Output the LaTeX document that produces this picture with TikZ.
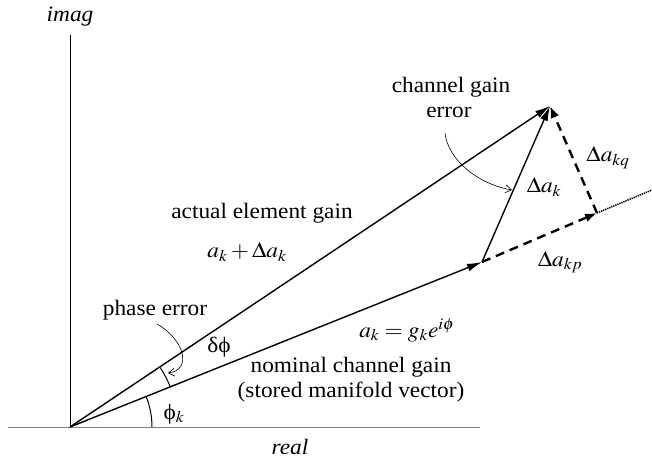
\documentclass[tikz,border=0pt]{standalone}
\usepackage{mathptmx}
\usepackage[no-math]{fontspec}
\setmainfont{Liberation Serif}
\usepackage{graphicx}
\usetikzlibrary{arrows.meta}
\newcommand{\sx}[1]{\scalebox{1.06}[1]{#1}}
\begin{document}
\begin{tikzpicture}[x=1pt,y=1pt,
  lbl/.style={inner sep=0pt, font=\fontsize{22}{25}\selectfont},
  vec/.style={line width=1.4pt, -{Latex[length=15pt,width=8pt]}},
  dvec/.style={line width=2.4pt, dash pattern=on 9pt off 6pt, -{Latex[length=12pt,width=9pt]}},
  thinarr/.style={line width=0.6pt, -{Straight Barb[length=6pt,width=8pt]}}]
\useasboundingbox (0,0) rectangle (652,458);
% key points
\coordinate (O) at (70,31);
\coordinate (Itop) at (70,423);
\coordinate (Rl) at (8,31);
\coordinate (Rr) at (480,31);
\coordinate (T) at (550,352);
\coordinate (N) at (482,196);
\coordinate (D) at (597,245);
\coordinate (E) at (652,268);
% axes
\draw[line width=0.8pt] (O) -- (Itop);
\draw[line width=1pt, gray] (Rl) -- (Rr);
\node[lbl] (imag) at (70,441) {\sx{\textit{imag}}};
\node[lbl] (real) at (290,11) {\sx{\textit{real}}};
% vectors
\draw[vec] (O) -- (T);
\draw[vec] (O) -- (N);
\draw[vec] (N) -- (T);
\draw[dvec] (N) -- (D);
\draw[dvec] (D) -- (T);
\draw[line width=1.5pt, dash pattern=on 1.3pt off 0.9pt] (D) -- (E);
% angle arcs
\draw[line width=1pt] ([shift={(82,0)}]O) arc[start angle=0, end angle=21.8, radius=82];
\draw[line width=1pt] ([shift={(21.8:108)}]O) arc[start angle=21.8, end angle=33.8, radius=108];
% labels
\node[lbl] (cg1) at (451,371) {\sx{channel gain}};
\node[lbl] (cg2) at (449,346) {\sx{error}};
\node[lbl] (dakq) at (608,300) {\sx{$\Delta a_{kq}$}};
\node[lbl] (dak) at (544,271) {\sx{$\Delta a_{k}$}};
\node[lbl] (dakp) at (560,196) {\sx{$\Delta a_{kp}$}};
\node[lbl] (aeg) at (262,245) {\sx{actual element gain}};
\node[lbl] (apd) at (247,206) {\sx{$a_k + \Delta a_k$}};
\node[lbl] (pe) at (155,148) {\sx{phase error}};
\node[lbl] (dphi) at (219,111) {\sx{δϕ}};
\node[lbl] (ak) at (407,128) {\sx{$a_k = g_k e^{i\phi}$}};
\node[lbl] (ncg) at (351,91) {\sx{nominal channel gain}};
\node[lbl] (smv) at (351,66) {\sx{(stored manifold vector)}};
\node[lbl] (phik) at (174,44) {\sx{ϕ$_k$}};
% pointer arrows
\coordinate (peS) at (157,134);
\coordinate (peE) at (168,85);
\draw[thinarr] (peS) .. controls (185,118) and (192,88) .. (peE);
\coordinate (cgS) at (445,325);
\coordinate (cgE) at (512,268);
\draw[thinarr] (cgS) .. controls (448,298) and (478,274) .. (cgE);
\end{tikzpicture}
\end{document}
